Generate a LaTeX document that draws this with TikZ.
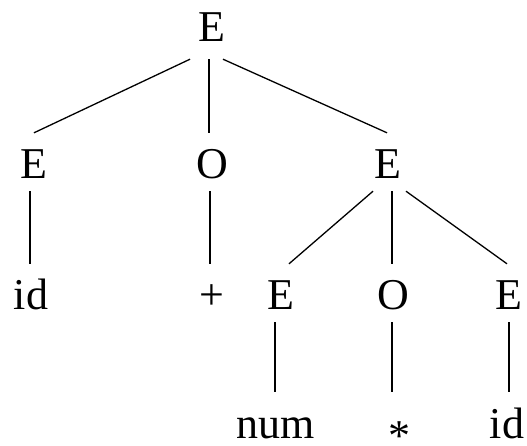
\documentclass[tikz,border=0pt]{standalone}
\usepackage{fontspec}
\setmainfont{Liberation Serif}
\begin{document}
\begin{tikzpicture}[x=1pt,y=-1pt,
  sym/.style={anchor=base,inner sep=0pt,text height=45pt,text depth=13pt,font=\fontsize{44}{50}\selectfont},
  leaf/.style={sym,text height=46pt,text depth=3pt},
  edge/.style={line width=1.3pt}]
\useasboundingbox (0,0) rectangle (527,445);
\node[sym,text depth=18pt] (r) at (212,41) {E};
\node[sym] (e1) at (34,178) {E};
\node[sym] (o1) at (212,178) {O};
\node[sym] (e2) at (388,178) {E};
\node[sym] (id1) at (31,309) {id};
\node[sym] (plus) at (212,309) {+};
\node[sym] (e3) at (281,309) {E};
\node[sym] (o2) at (393,309) {O};
\node[sym] (e4) at (509,309) {E};
\node[leaf] (num) at (276,438) {num};
\node[leaf] (ast) at (399,438) {\smash{\raisebox{-12.5pt}{*}}};
\node[leaf] (id2) at (507,438) {id};
\draw[edge] ([xshift=-22pt]r.south) -- ([xshift=0pt]e1.north);
\draw[edge] ([xshift=-3pt]r.south) -- ([xshift=-3pt]o1.north);
\draw[edge] ([xshift=11pt]r.south) -- ([xshift=-1pt]e2.north);
\draw[edge] ([xshift=-4pt]e1.south) -- ([xshift=-1pt]id1.north);
\draw[edge] ([xshift=-2pt]o1.south) -- ([xshift=-2pt]plus.north);
\draw[edge] ([xshift=-15pt]e2.south) -- ([xshift=8pt]e3.north);
\draw[edge] ([xshift=4pt]e2.south) -- ([xshift=-1pt]o2.north);
\draw[edge] ([xshift=18pt]e2.south) -- ([xshift=-2pt]e4.north);
\draw[edge] ([xshift=-6pt]e3.south) -- ([xshift=-1pt]num.north);
\draw[edge] ([xshift=-1pt]o2.south) -- ([xshift=-7pt]ast.north);
\draw[edge] ([xshift=0pt]e4.south) -- ([xshift=2pt]id2.north);
\end{tikzpicture}
\end{document}
